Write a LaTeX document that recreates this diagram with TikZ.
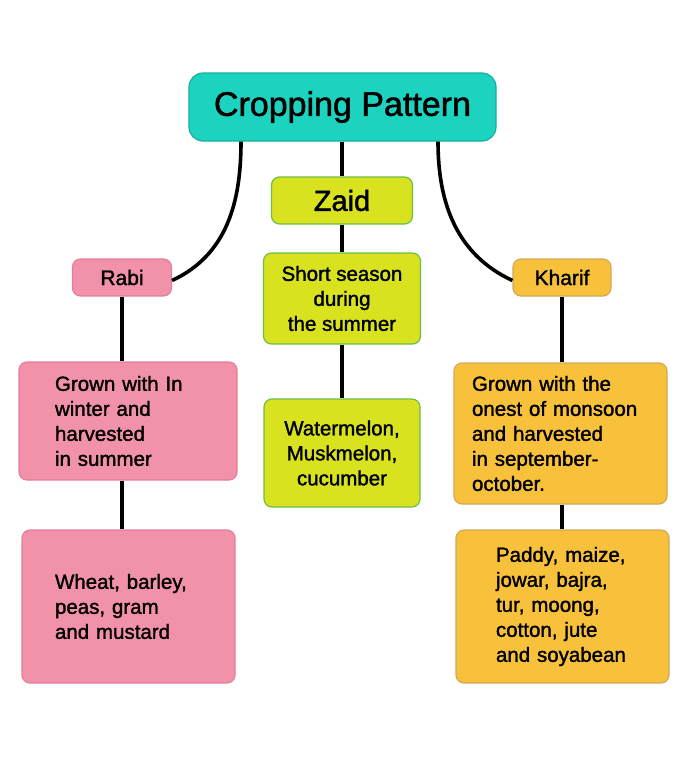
\documentclass[tikz,border=0pt]{standalone}
\usepackage{fontspec}
\setmainfont{Liberation Sans}[FakeBold=1.5]
\usetikzlibrary{positioning}
\definecolor{teal1}{HTML}{1CD3C0}
\definecolor{teal2}{HTML}{17AF9F}
\definecolor{lime1}{HTML}{D8E21F}
\definecolor{lime2}{HTML}{6DBE45}
\definecolor{pink1}{HTML}{F292AA}
\definecolor{pink2}{HTML}{E47F99}
\definecolor{gold1}{HTML}{F8C13B}
\definecolor{gold2}{HTML}{D2A85A}
\tikzset{
  box/.style={draw,line width=1.2pt,rounded corners=8pt,inner sep=0pt,
    font=\fontsize{20.5}{25}\selectfont},
  head/.style={box,fill=teal1,draw=teal2,rounded corners=14pt,minimum width=307pt,
    minimum height=68pt,font=\fontsize{34}{38}\selectfont},
  zaidbox/.style={box,fill=lime1,draw=lime2,align=center},
  rabibox/.style={box,fill=pink1,draw=pink2},
  kharifbox/.style={box,fill=gold1,draw=gold2},
  link/.style={line width=3.6pt}
}
\begin{document}
\begin{tikzpicture}[x=1pt,y=-1pt]
  \useasboundingbox (0,0) rectangle (689,758);
  %titre
  \node[head] (title) at (342.5,107) {Cropping Pattern};
  %zaid
  \node[zaidbox,minimum width=141pt,minimum height=47pt,font=\fontsize{29}{34}\selectfont] (zaid) at (342,200.5) {Zaid};
  \node[zaidbox,minimum width=157pt,minimum height=91pt] (short) at (342,298.5) {Short season\\during\\the summer};
  \node[zaidbox,minimum width=156pt,minimum height=108pt] (melon) at (342,453) {Watermelon,\\Muskmelon,\\cucumber};
  %rabi
  \node[rabibox,minimum width=99pt,minimum height=37pt,font=\fontsize{21}{25}\selectfont] (rabi) at (122,277.5) {Rabi};
  \node[rabibox,text width=146pt,inner xsep=36pt,align=left,minimum height=118pt] (rabidesc) at (128,421) {Grown with In\\winter and\\harvested\\in summer};
  \node[rabibox,text width=147pt,inner xsep=33pt,align=left,minimum height=153pt] (wheat) at (128.5,606.5) {Wheat, barley,\\peas, gram\\and mustard};
  %kharif
  \node[kharifbox,minimum width=98pt,minimum height=37pt,font=\fontsize{21}{25}\selectfont] (kharif) at (562,277.5) {Kharif};
  \node[kharifbox,text width=177pt,inner xsep=18pt,align=left,minimum height=141pt] (kharifdesc) at (560.5,433.5) {Grown with the\\onest of monsoon\\and harvested\\in september-\\october.};
  \node[kharifbox,text width=133pt,inner xsep=40pt,align=left,minimum height=153pt] (paddy) at (562.5,606.5) {Paddy, maize,\\jowar, bajra,\\tur, moong,\\cotton, jute\\and soyabean};
  %liens
  \foreach \Up/\Down/\Col in {title/zaid/zaid,zaid/short/zaid,short/melon/zaid,rabi/rabidesc/rabi,rabidesc/wheat/rabi,kharif/kharifdesc/kharif,kharifdesc/paddy/kharif}
    \draw[link] (\Up.south -| \Col.south) -- (\Down.north -| \Col.south) ;
  \draw[link] ([xshift=-101.5pt]title.south) to[out=-90,in=25] ([yshift=-3pt]rabi.east) ;
  \draw[link] ([xshift=95.5pt]title.south) to[out=-90,in=155] ([yshift=-3pt]kharif.west) ;
\end{tikzpicture}
\end{document}
